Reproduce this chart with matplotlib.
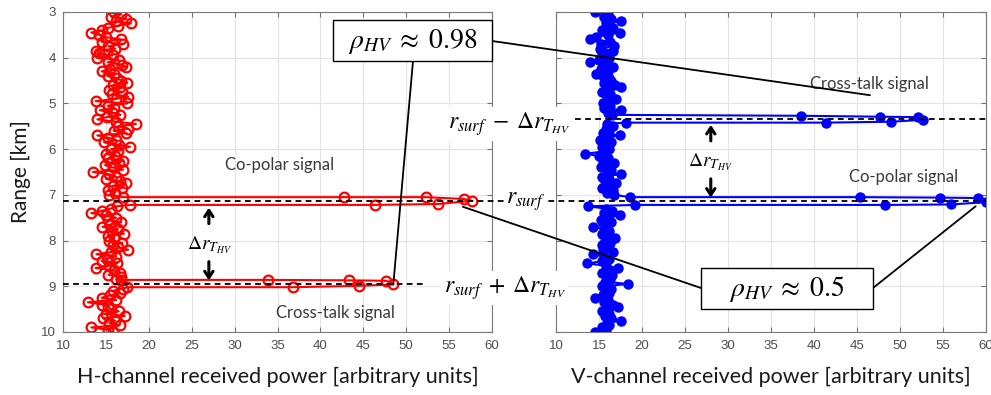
import numpy as np
import matplotlib
matplotlib.use('Agg')
import matplotlib.pyplot as plt
from matplotlib.patches import Rectangle, ConnectionPatch
from matplotlib.lines import Line2D
import matplotlib.transforms as mtrans

plt.rcParams['mathtext.fontset'] = 'stix'
plt.rcParams['font.family'] = ['Lato', 'DejaVu Sans']

W, H = 991, 395

# ---------------- data ----------------
range_start_km = 3.0
range_step_km = 0.05

# H-channel (red) noise profile, 3.00 ... 10.00 km
h_power = [
    16.0, 16.8, 15.6, 17.4, 16.2, 17.9, 16.4, 15.2, 14.6, 13.3,
    14.2, 15.0, 16.8, 14.5, 17.0, 15.3, 16.1, 13.9, 14.2, 15.8,
    14.0, 16.5, 15.2, 16.9, 17.4, 15.5, 14.5, 16.0, 15.2, 16.3,
    16.8, 17.5, 15.8, 16.6, 15.4, 16.9, 15.7, 17.6, 16.2, 13.8,
    17.5, 15.2, 16.0, 14.3, 15.8, 16.7, 15.1, 14.0, 16.2, 18.5,
    16.4, 17.6, 15.9, 17.4, 14.0, 15.3, 16.2, 14.8, 16.5, 17.8,
    15.6, 16.4, 15.0, 16.1, 15.3, 17.0, 16.5, 14.9, 15.8, 17.0,
    13.5, 15.4, 16.2, 15.0, 16.6, 17.3, 15.8, 16.9, 15.3, 16.1,
    15.4, 17.0, 16.5, 16.0, 17.8, 16.3, 15.6, 14.5, 13.3, 15.0,
    16.2, 15.3, 16.8, 15.5, 14.6, 16.4, 15.7, 17.1, 15.2, 16.0,
    15.4, 16.9, 15.8, 16.4, 17.6, 15.6, 13.9, 16.2, 15.1, 14.5,
    16.3, 15.4, 13.8, 15.9, 16.6, 15.3, 16.8, 16.2, 15.9, 16.5,
    16.4, 17.0, 15.8, 16.6, 15.5, 14.5, 16.2, 12.9, 14.6, 15.3,
    15.6, 16.5, 15.0, 17.2, 14.7, 16.1, 15.4, 16.6, 13.3, 15.2,
    15.8,
]

# V-channel (blue) noise profile, 3.00 ... 10.00 km
v_power = [
    14.5, 16.0, 15.6, 16.4, 17.6, 15.8, 16.1, 16.6, 15.4, 17.4,
    16.0, 14.6, 14.0, 16.3, 15.2, 16.8, 15.1, 16.6, 15.4, 15.9,
    16.2, 15.0, 14.0, 15.7, 16.6, 15.2, 16.0, 14.7, 15.5, 16.2,
    16.4, 15.6, 16.9, 17.6, 16.1, 15.4, 16.3, 15.9, 17.0, 16.2,
    15.5, 16.3, 15.6, 17.6, 16.0, 16.4, 16.4, 16.4, 16.4, 15.9,
    16.6, 15.8, 16.2, 15.5, 17.4, 16.0, 15.1, 16.4, 15.7, 15.3,
    16.2, 15.6, 13.4, 15.0, 16.1, 15.5, 16.8, 15.9, 15.2, 16.4,
    16.0, 17.5, 15.4, 16.2, 15.7, 17.0, 16.3, 15.3, 16.6, 15.9,
    16.8, 17.0, 17.0, 17.0, 17.0, 13.7, 15.8, 16.5, 15.6, 17.4,
    16.1, 15.2, 16.4, 15.8, 14.3, 15.6, 16.2, 15.3, 16.0, 16.9,
    15.7, 16.3, 15.3, 16.0, 15.5, 16.6, 14.3, 15.6, 16.2, 15.4,
    13.6, 15.8, 17.2, 16.0, 15.4, 16.5, 15.9, 16.3, 15.7, 18.4,
    15.3, 16.4, 15.8, 16.2, 15.5, 14.5, 16.0, 15.6, 16.6, 17.2,
    16.1, 15.3, 16.2, 15.7, 16.4, 17.6, 15.9, 16.2, 15.3, 15.8,
    14.5,
]

# surface echoes (range km, power)
h_copol_range = [7.05, 7.05, 7.05, 7.09, 7.13, 7.20, 7.22, 7.22]
h_copol_power = [17.0, 42.7, 52.3, 56.7, 57.7, 53.7, 46.4, 17.8]
h_xtalk_range = [8.86, 8.86, 8.87, 8.88, 8.96, 8.99, 9.02, 9.02]
h_xtalk_power = [16.8, 33.9, 43.3, 47.7, 48.5, 44.5, 36.8, 17.5]
v_xtalk_range = [5.25, 5.27, 5.29, 5.30, 5.36, 5.40, 5.42, 5.42]
v_xtalk_power = [16.5, 38.5, 47.7, 52.1, 52.7, 48.9, 41.4, 18.1]
v_copol_range = [7.05, 7.05, 7.06, 7.07, 7.16, 7.21, 7.22, 7.22]
v_copol_power = [18.6, 45.4, 54.7, 59.1, 60.0, 55.9, 48.3, 19.2]

r_surf_km = 7.14
dr_thv_km = 1.81

x_ticks = [10, 15, 20, 25, 30, 35, 40, 45, 50, 55, 60]
y_ticks = [3, 4, 5, 6, 7, 8, 9, 10]


def compose(power, spikes):
    p = np.asarray(power, float)
    r = range_start_km + range_step_km * np.arange(len(p))
    keep = np.ones(len(p), bool)
    for sr, sp in spikes:
        keep &= ~((r >= min(sr) - 1e-6) & (r <= max(sr) + 1e-6))
    rr = np.concatenate([r[keep]] + [np.asarray(sr, float) for sr, sp in spikes])
    pp = np.concatenate([p[keep]] + [np.asarray(sp, float) for sr, sp in spikes])
    order = np.argsort(rr, kind='stable')
    return rr[order], pp[order]


h_r, h_p = compose(h_power, [(h_copol_range, h_copol_power), (h_xtalk_range, h_xtalk_power)])
v_r, v_p = compose(v_power, [(v_xtalk_range, v_xtalk_power), (v_copol_range, v_copol_power)])

# ---------------- figure ----------------
fig = plt.figure(figsize=(W / 100, H / 100), dpi=100)
ax1 = fig.add_axes([63 / W, 1 - 332 / H, 429 / W, 320 / H])
ax2 = fig.add_axes([556 / W, 1 - 332 / H, 430 / W, 320 / H])

for ax in (ax1, ax2):
    ax.set_xlim(10, 60)
    ax.set_ylim(10, 3)
    ax.set_xticks(x_ticks)
    ax.set_yticks(y_ticks)
    ax.grid(True, color='#e4e4e4', lw=0.8)
    ax.set_axisbelow(True)
    ax.tick_params(direction='in', top=True, right=True, length=3.5, width=0.8,
                   colors='#707070', labelcolor='#4d4d4d', labelsize=9.5)
    ax.tick_params(axis='x', pad=6)
    ax.tick_params(axis='y', pad=5)
    for lab in ax.get_xticklabels() + ax.get_yticklabels():
        lab.set_fontfamily('Liberation Sans')
    for s in ax.spines.values():
        s.set_color('#7a7a7a')
        s.set_linewidth(0.8)
ax2.set_yticklabels([])

ax1.plot(h_p, h_r, '-o', color='red', lw=1.5, ms=7, mfc='none', mew=1.6)
ax2.plot(v_p, v_r, '-o', color='blue', lw=1.5, ms=6.5, mfc='blue', mew=1)

ax1.set_xlabel('H-channel received power [arbitrary units]', fontsize=15.5, color='#1a1a1a')
ax2.set_xlabel('V-channel received power [arbitrary units]', fontsize=15.5, color='#1a1a1a')
ax1.xaxis.set_label_coords(0.5, -0.11)
ax2.xaxis.set_label_coords(0.5, -0.11)
ax1.set_ylabel('Range [km]', fontsize=15, color='#1a1a1a')
ax1.yaxis.set_label_coords(-0.075, 0.5)

txt_kw = dict(fontsize=12, color='#3a3a3a', ha='center', va='center')
ax1.text(35.2, 6.35, 'Co-polar signal', **txt_kw)
ax1.text(41.8, 9.58, 'Cross-talk signal', **txt_kw)
ax2.text(46.4, 4.58, 'Cross-talk signal', **txt_kw)
ax2.text(50.4, 6.61, 'Co-polar signal', **txt_kw)

# Delta r arrows
arr = dict(arrowstyle='->,head_length=0.45,head_width=0.3', lw=2.2, color='black')
for ax, xa, top, bot in ((ax1, 27.0, r_surf_km, r_surf_km + dr_thv_km),
                         (ax2, 28.0, r_surf_km - dr_thv_km, r_surf_km)):
    mid = (top + bot) / 2
    ax.annotate('', xy=(xa, top + 0.08), xytext=(xa, top + 0.55), arrowprops=arr)
    ax.annotate('', xy=(xa, bot - 0.02), xytext=(xa, bot - 0.55), arrowprops=arr)
    ax.text(xa, mid + 0.05, r'$\Delta r_{T_{HV}}$', fontsize=14, ha='center', va='center')

# dashed reference lines (span across figure)
tr = mtrans.blended_transform_factory(fig.transFigure, ax1.transData)
dash = dict(color='black', ls=(0, (3.2, 2.4)), lw=1.3, transform=tr)
fig.add_artist(Line2D([63 / W, 986 / W], [r_surf_km, r_surf_km], **dash))
fig.add_artist(Line2D([63 / W, 425 / W], [r_surf_km + dr_thv_km] * 2, **dash))
fig.add_artist(Line2D([575 / W, 986 / W], [r_surf_km - dr_thv_km] * 2, **dash))

wb = dict(facecolor='white', edgecolor='none', pad=2)
fig.text(509 / W, 1 - 124 / H, r'$r_{surf}\;-\;\Delta r_{T_{HV}}$', fontsize=17,
         ha='center', va='center', bbox=wb)
fig.text(526 / W, 1 - 202 / H, r'$r_{surf}$', fontsize=17, ha='center', va='center', bbox=wb)
fig.text(505 / W, 1 - 288 / H, r'$r_{surf}\;+\;\Delta r_{T_{HV}}$', fontsize=17,
         ha='center', va='center', bbox=wb)

# rho boxes
fig.add_artist(Rectangle((333 / W, 1 - 61 / H), 159 / W, 41 / H, transform=fig.transFigure,
                         facecolor='white', edgecolor='black', lw=1.0, zorder=4))
fig.text(412.5 / W, 1 - 41 / H, r'$\rho_{HV}\;\approx\;0.98$', fontsize=20,
         ha='center', va='center', zorder=5)
fig.add_artist(Rectangle((701 / W, 1 - 309 / H), 172 / W, 41 / H, transform=fig.transFigure,
                         facecolor='white', edgecolor='black', lw=1.0, zorder=4))
fig.text(787 / W, 1 - 289 / H, r'$\rho_{HV}\;\approx\;0.5$', fontsize=20,
         ha='center', va='center', zorder=5)

# connector lines
con_kw = dict(color='black', lw=1.3, zorder=3)
fig.add_artist(ConnectionPatch(xyA=(48.5, 8.96), coordsA=ax1.transData,
                               xyB=(413 / W, 1 - 61 / H), coordsB=fig.transFigure, **con_kw))
fig.add_artist(ConnectionPatch(xyA=(492 / W, 1 - 41 / H), coordsA=fig.transFigure,
                               xyB=(46.5, 4.82), coordsB=ax2.transData, **con_kw))
fig.add_artist(ConnectionPatch(xyA=(56.6, 7.26), coordsA=ax1.transData,
                               xyB=(701 / W, 1 - 288 / H), coordsB=fig.transFigure, **con_kw))
fig.add_artist(ConnectionPatch(xyA=(873 / W, 1 - 288 / H), coordsA=fig.transFigure,
                               xyB=(58.8, 7.25), coordsB=ax2.transData, **con_kw))

fig.savefig('out.png', dpi=100)
